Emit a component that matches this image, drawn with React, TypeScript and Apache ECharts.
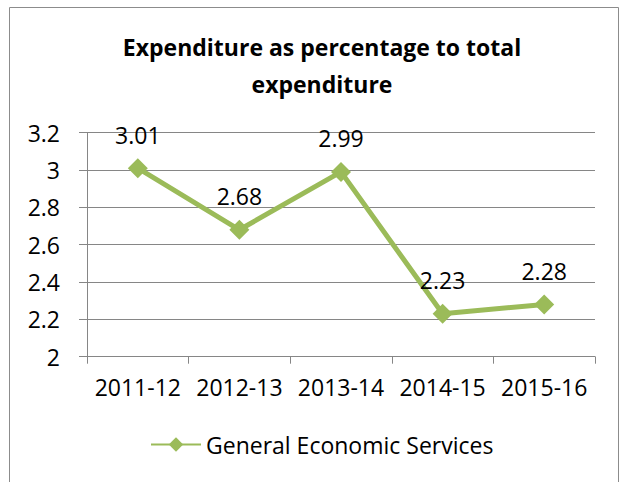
import React, { useEffect, useRef } from "react";
import * as echarts from "echarts";

const categories = ["2011-12", "2012-13", "2013-14", "2014-15", "2015-16"];
const seriesName = "General Economic Services";
const values = [3.01, 2.68, 2.99, 2.23, 2.28];
const titleText = "Expenditure as percentage to total\nexpenditure";

const FONT = "'Open Sans', 'Noto Sans', sans-serif";
const GREEN = "#9BBB59";
const GRAY = "#868686";

export default function App() {
  const ref = useRef<HTMLDivElement>(null);
  useEffect(() => {
    if (!ref.current) return;
    const chart = echarts.init(ref.current, undefined, { renderer: "svg" });
    chart.setOption({
      animation: false,
      backgroundColor: "#ffffff",
      textStyle: { fontFamily: FONT },
      title: {
        text: titleText,
        left: 317,
        top: 23,
        textAlign: "center",
        textStyle: {
          fontFamily: FONT,
          fontWeight: "bold",
          fontSize: 23,
          lineHeight: 37,
          color: "#000",
        },
      },
      graphic: [
        {
          type: "rect",
          shape: { x: 9.5, y: 7.5, width: 609, height: 490 },
          style: { fill: "none", stroke: "#8c8c8c", lineWidth: 1 },
          silent: true,
        },
      ],
      legend: {
        left: 150,
        top: 433,
        padding: 0,
        itemWidth: 50,
        itemHeight: 18,
        itemGap: 5,
        textStyle: { fontFamily: FONT, fontSize: 23, color: "#000" },
        data: [seriesName],
      },
      grid: { left: 87, right: 29, top: 132.7, bottom: 125.3, containLabel: false },
      xAxis: {
        type: "category",
        data: categories,
        boundaryGap: true,
        axisLine: { show: true, lineStyle: { color: GRAY, width: 1 } },
        axisTick: { show: true, length: 7, lineStyle: { color: GRAY } },
        axisLabel: {
          interval: 0,
          hideOverlap: false,
          fontFamily: FONT,
          fontSize: 23,
          color: "#000",
          margin: 19,
        },
      },
      yAxis: {
        type: "value",
        min: 2,
        max: 3.2,
        interval: 0.2,
        axisLine: { show: true, lineStyle: { color: GRAY, width: 1 } },
        axisTick: { show: true, length: 8, inside: false, lineStyle: { color: GRAY } },
        splitLine: { show: true, lineStyle: { color: GRAY, width: 1 } },
        axisLabel: {
          fontFamily: FONT,
          fontSize: 23,
          color: "#000",
          margin: 27,
          formatter: (v: number) => String(Number(v.toFixed(1))),
        },
      },
      series: [
        {
          name: seriesName,
          type: "line",
          data: values,
          symbol: "diamond",
          symbolSize: 20,
          lineStyle: { color: GREEN, width: 5 },
          itemStyle: { color: GREEN },
          label: {
            show: true,
            position: "top",
            distance: 12,
            fontFamily: FONT,
            fontSize: 23,
            color: "#000",
            formatter: (p: any) => p.value.toFixed(2),
          },
        },
      ],
    });
    return () => chart.dispose();
  }, []);
  return (
    <div
      ref={ref}
      style={{ position: "fixed", left: 0, top: 0, width: 624, height: 482 }}
    />
  );
}
